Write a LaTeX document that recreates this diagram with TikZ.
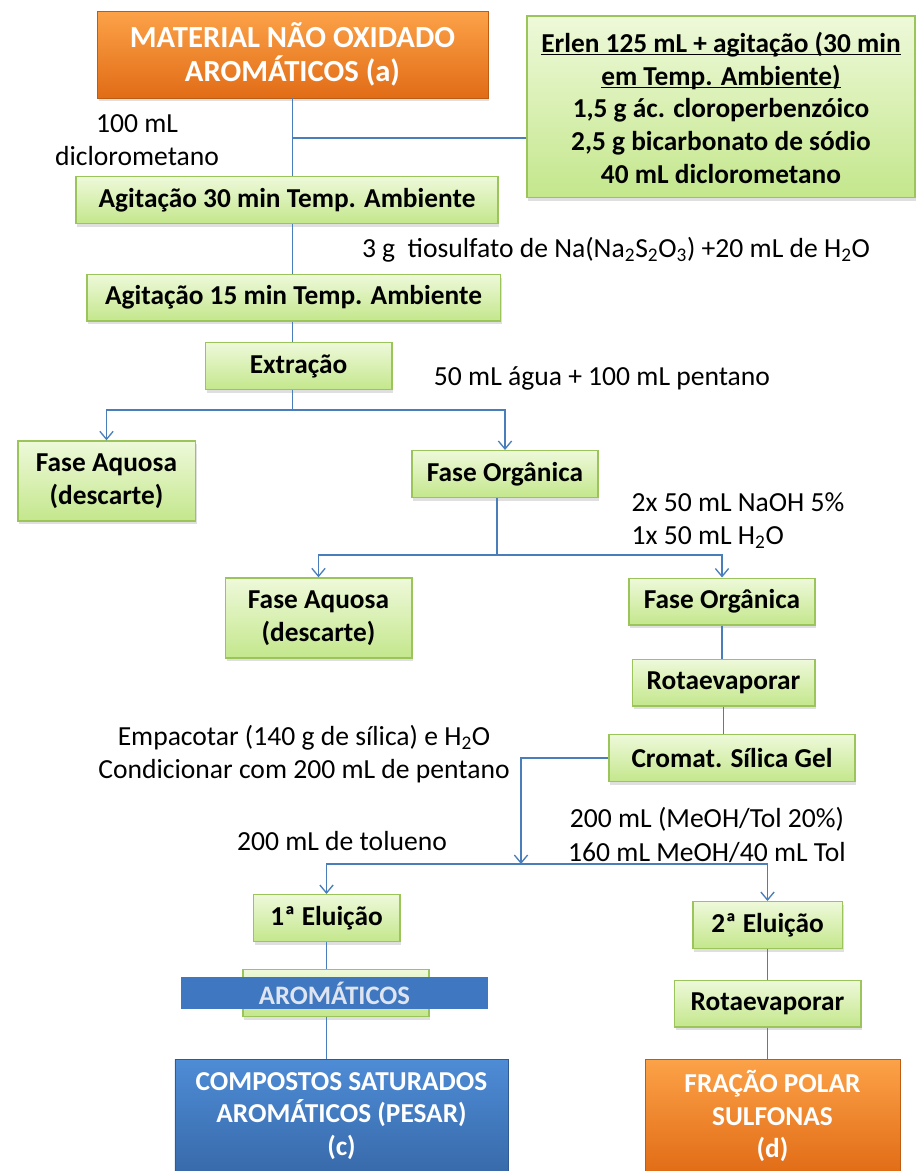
\documentclass[tikz,border=0pt]{standalone}
\usepackage{fontspec}
\setmainfont{Carlito}
\usetikzlibrary{arrows.meta,shadows}
\definecolor{linkblue}{RGB}{74,126,187}
\definecolor{greentop}{RGB}{238,249,218}
\definecolor{greenbot}{RGB}{196,231,140}
\definecolor{greenline}{RGB}{155,196,90}
\definecolor{orangetop}{RGB}{252,162,72}
\definecolor{orangebot}{RGB}{225,108,22}
\definecolor{bluetop}{RGB}{78,140,214}
\definecolor{bluebot}{RGB}{56,106,170}
\definecolor{bandblue}{RGB}{63,120,192}

\begin{document}
\begin{tikzpicture}[x=0.75pt, y=-0.75pt, >={Straight Barb[length=6pt,width=10pt]}]
    \tikzstyle{stepbox}=[rectangle,draw=greenline,line width=1pt,top color=greentop,bottom color=greenbot,align=center,font=\bfseries\fontsize{20.5}{24.5}\selectfont,minimum height=35pt,inner sep=2pt,drop shadow={opacity=0.25,shadow xshift=1pt,shadow yshift=-2.5pt}]
    \tikzstyle{orangebox}=[rectangle,draw=orangebot!85!black,top color=orangetop,bottom color=orangebot,text=white,align=center,font=\bfseries\fontsize{23}{26}\selectfont,drop shadow={opacity=0.25,shadow xshift=1pt,shadow yshift=-2.5pt}]
    \tikzstyle{bluebox}=[rectangle,draw=bluebot!85!black,top color=bluetop,bottom color=bluebot,text=white,align=center,font=\bfseries\fontsize{20.5}{24.5}\selectfont]
    \tikzstyle{band}=[rectangle,fill=bandblue,text={rgb,255:red,222;green,229;blue,240},font=\bfseries\fontsize{20}{22}\selectfont,inner sep=0pt]
    \tikzstyle{note}=[align=center,font=\fontsize{20.7}{25}\selectfont,inner sep=1pt]
    \tikzstyle{flow}=[draw=linkblue,line width=1pt]
    \useasboundingbox (0,0) rectangle (915,1171);

    \node[orangebox,minimum width=293pt,minimum height=65pt] (material) at (292.5,54.5) {MATERIAL NÃO OXIDADO\\AROMÁTICOS (a)};
    \node[stepbox,minimum width=291pt,minimum height=136pt] (erlen) at (721,106.5) {\underline{\smash{Erlen 125 mL + agitação (30 min}}\vphantom{Ég}\\\underline{\smash{em Temp. Ambiente)}}\vphantom{Ég}\\1,5 g ác. cloroperbenzóico\\2,5 g bicarbonato de sódio\\40 mL diclorometano};
    \node[stepbox,minimum width=316.5pt] (agit30) at (287,200) {Agitação 30 min Temp. Ambiente};
    \node[stepbox,minimum width=310pt] (agit15) at (293.5,297.5) {Agitação 15 min Temp. Ambiente};
    \node[stepbox,minimum width=140pt] (extracao) at (298.5,366) {Extração};
    \node[stepbox,minimum width=133pt,minimum height=60pt] (aquosa1) at (106.5,481) {Fase Aquosa\\(descarte)};
    \node[stepbox,minimum width=139.5pt] (organica1) at (505,474) {Fase Orgânica};
    \node[stepbox,minimum width=140pt,minimum height=60pt] (aquosa2) at (318.5,618) {Fase Aquosa\\(descarte)};
    \node[stepbox,minimum width=139.5pt] (organica2) at (722,601.5) {Fase Orgânica};
    \node[stepbox,minimum width=137pt] (rotaev1) at (723.5,682.5) {Rotaevaporar};
    \node[stepbox,minimum width=184.5pt] (cromat) at (732,758) {Cromat. Sílica Gel};
    \node[stepbox,minimum width=110pt] (eluicao1) at (326.5,918) {1ª Eluição};
    \node[stepbox,minimum width=139.5pt] (aromat) at (336,993) {};
    \node[band,minimum width=230pt,minimum height=24pt] (aromband) at (334.5,993) {AROMÁTICOS};
    \node[bluebox,minimum width=250pt,minimum height=85.5pt] (saturados) at (341.5,1116) {COMPOSTOS SATURADOS\\AROMÁTICOS (PESAR)\\(c)};
    \node[stepbox,minimum width=112pt] (eluicao2) at (767.5,925) {2ª Eluição};
    \node[stepbox,minimum width=140pt] (rotaev2) at (767.5,1003.5) {Rotaevaporar};
    \node[orangebox,minimum width=191pt,minimum height=85.5pt,font=\bfseries\fontsize{20.5}{24.5}\selectfont] (polar) at (772.5,1116) {FRAÇÃO POLAR\\SULFONAS\\(d)};

    % reagentes
    \node[note] (dcm) at (137,140) {100 mL\\diclorometano};
    \node[note] (tiossulfato) at (616,250) {3 g~ tiosulfato de Na(Na\textsubscript{2}S\textsubscript{2}O\textsubscript{3}) +20 mL de H\textsubscript{2}O};
    \node[note] (agua) at (602,378) {50 mL água + 100 mL pentano};
    \node[note,align=left,anchor=west] (naoh) at (630,520.5) {2x 50 mL NaOH 5\%\\1x 50 mL H\textsubscript{2}O};
    \node[note] (empacotar) at (304,754) {Empacotar (140 g de sílica) e H\textsubscript{2}O\\Condicionar com 200 mL de pentano};
    \node[note] (tolueno) at (342,841) {200 mL de tolueno};
    \node[note] (meoh) at (707,835) {200 mL (MeOH/Tol 20\%)\\160 mL MeOH/40 mL Tol};

    % ligacoes
    \coordinate (jerlen) at (292.5,138);
    \coordinate (split1) at (292.5,410);
    \coordinate (split2) at (497,555);
    \coordinate (split3) at (521,864);
    \draw[flow] (material.south) -- (material.south |- agit30.north);
    \draw[flow] (jerlen) -- (jerlen -| erlen.west);
    \draw[flow] (agit30.south -| jerlen) -- (agit15.north -| jerlen);
    \draw[flow] (agit15.south -| jerlen) -- (extracao.north -| jerlen);
    \draw[flow] (extracao.south -| split1) -- (split1);
    \draw[flow,->] (split1) -| (aquosa1.north);
    \draw[flow,->] (split1) -| (organica1.north);
    \draw[flow] (organica1.south -| split2) -- (split2);
    \draw[flow,->] (split2) -| (aquosa2.north);
    \draw[flow,->] (split2) -| (organica2.north);
    \draw[flow] (organica2.south) -- (organica2.south |- rotaev1.north);
    \draw[flow] (rotaev1.south) -- (rotaev1.south |- cromat.north);
    \draw[flow,->] (cromat.west) -| (split3);
    \draw[flow,->] (split3) -| (eluicao1.north);
    \draw[flow,->] (split3) -| (eluicao2.north);
    \draw[flow] (eluicao1.south) -- (eluicao1.south |- aromat.north);
    \draw[flow] (aromat.south -| eluicao1) -- (saturados.north -| eluicao1);
    \draw[flow] (eluicao2.south) -- (eluicao2.south |- rotaev2.north);
    \draw[flow] (rotaev2.south) -- (rotaev2.south |- polar.north);
  \end{tikzpicture}
\end{document}
